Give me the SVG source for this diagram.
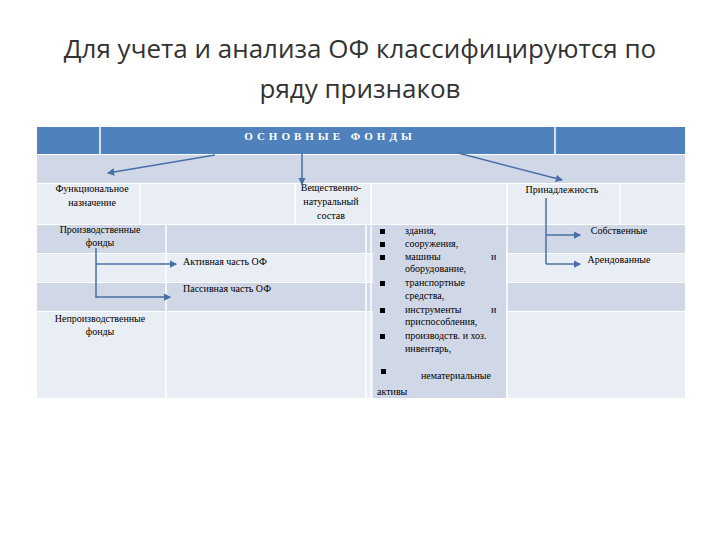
<svg xmlns="http://www.w3.org/2000/svg" width="720" height="540" viewBox="0 0 720 540">
<defs>
<style>
.t{font-family:"Liberation Serif",serif;font-size:10px;fill:#000}
.c{text-anchor:middle}
.h{font-family:"Open Sans","Liberation Sans",sans-serif;font-size:26px;fill:#333;text-anchor:middle}
.dk{fill:#d0d8e8}.lt{fill:#e9edf4}
.sep{stroke:#fff;stroke-width:1.5}
.ln{stroke:#4a6fa5;stroke-width:1.5;fill:none}
</style>
<marker id="a" viewBox="0 0 6 6" refX="5" refY="3" markerWidth="5" markerHeight="5" orient="auto"><path d="M0,0L6,3L0,6z" fill="#4a6fa5"/></marker>
</defs>
<rect width="720" height="540" fill="#fff"/>
<text class="h" x="360" y="58">Для учета и анализа ОФ классифицируются по</text>
<text class="h" x="360" y="98">ряду признаков</text>
<g id="table">
<rect x="37" y="127" width="648" height="27" fill="#4f81bd"/>
<rect x="37" y="155" width="648" height="28" class="dk"/>
<rect x="37" y="184" width="648" height="40" class="lt"/>
<rect x="37" y="225" width="648" height="28" class="dk"/>
<rect x="37" y="254" width="648" height="28" class="lt"/>
<rect x="37" y="283" width="648" height="28" class="dk"/>
<rect x="37" y="312" width="648" height="86" class="lt"/>
<rect x="373" y="225" width="133" height="173" class="dk"/>
<line class="sep" x1="100" y1="127" x2="100" y2="154"/>
<line class="sep" x1="555" y1="127" x2="555" y2="154"/>
<line class="sep" x1="140" y1="184" x2="140" y2="224"/>
<line class="sep" x1="295" y1="184" x2="295" y2="224"/>
<line class="sep" x1="371" y1="184" x2="371" y2="398"/>
<line class="sep" x1="507" y1="184" x2="507" y2="398"/>
<line class="sep" x1="620" y1="184" x2="620" y2="224"/>
<line class="sep" x1="166" y1="225" x2="166" y2="398"/>
<line class="sep" x1="366" y1="225" x2="366" y2="398"/>
</g>
<g id="header"><text x="330" y="140" font-family="Liberation Serif,serif" font-size="11" fill="#fff" text-anchor="middle" letter-spacing="4" font-weight="bold">ОСНОВНЫЕ ФОНДЫ</text></g>
<g id="func"><text class="t c" x="92" y="192">Функциональное</text><text class="t c" x="92" y="206">назначение</text></g>
<g id="vesh"><text class="t c" x="331" y="191">Вещественно-</text><text class="t c" x="331" y="205">натуральный</text><text class="t c" x="331" y="219">состав</text></g>
<g id="prin"><text class="t c" x="562" y="193">Принадлежность</text></g>
<g id="proizv"><text class="t c" x="100" y="233">Производственные</text><text class="t c" x="100" y="246">фонды</text></g>
<g id="akt"><text class="t" x="183" y="265">Активная  часть ОФ</text></g>
<g id="pass"><text class="t" x="183" y="292">Пассивная часть ОФ</text></g>
<g id="neproizv"><text class="t c" x="100" y="322">Непроизводственные</text><text class="t c" x="100" y="335">фонды</text></g>
<g id="sobst"><text class="t c" x="619" y="234">Собственные</text></g>
<g id="arend"><text class="t c" x="619" y="263">Арендованные</text></g>
<g id="list">
<g fill="#000"><rect x="380" y="229" width="5" height="5"/><rect x="380" y="242" width="5" height="5"/><rect x="380" y="255" width="5" height="5"/><rect x="380" y="281" width="5" height="5"/><rect x="380" y="308" width="5" height="5"/><rect x="380" y="334" width="5" height="5"/><rect x="381" y="369" width="5" height="5"/></g>
<text class="t" x="405" y="234">здания,</text>
<text class="t" x="405" y="247">сооружения,</text>
<text class="t" x="405" y="260">машины</text><text class="t" x="491" y="260">и</text>
<text class="t" x="405" y="272">оборудование,</text>
<text class="t" x="405" y="286">транспортные</text>
<text class="t" x="405" y="299">средства,</text>
<text class="t" x="405" y="313">инструменты</text><text class="t" x="491" y="313">и</text>
<text class="t" x="405" y="325">приспособления,</text>
<text class="t" x="405" y="339">производств. и хоз.</text>
<text class="t" x="405" y="352">инвентарь,</text>
<text class="t" x="421" y="379">нематериальные</text>
<text class="t" x="377" y="395">активы</text>
</g>
<g id="connectors">
<line class="ln" x1="215" y1="155" x2="108" y2="173" marker-end="url(#a)"/>
<line class="ln" x1="302" y1="153" x2="302" y2="184" marker-end="url(#a)"/>
<line class="ln" x1="458" y1="153" x2="562" y2="180" marker-end="url(#a)"/>
<path class="ln" d="M96,248V298"/>
<line class="ln" x1="96" y1="264" x2="176" y2="264" marker-end="url(#a)"/>
<line class="ln" x1="96" y1="297" x2="170" y2="297" marker-end="url(#a)"/>
<path class="ln" d="M546,198V264"/>
<line class="ln" x1="546" y1="235" x2="580" y2="235" marker-end="url(#a)"/>
<line class="ln" x1="546" y1="264" x2="580" y2="264" marker-end="url(#a)"/>
</g>
</svg>
